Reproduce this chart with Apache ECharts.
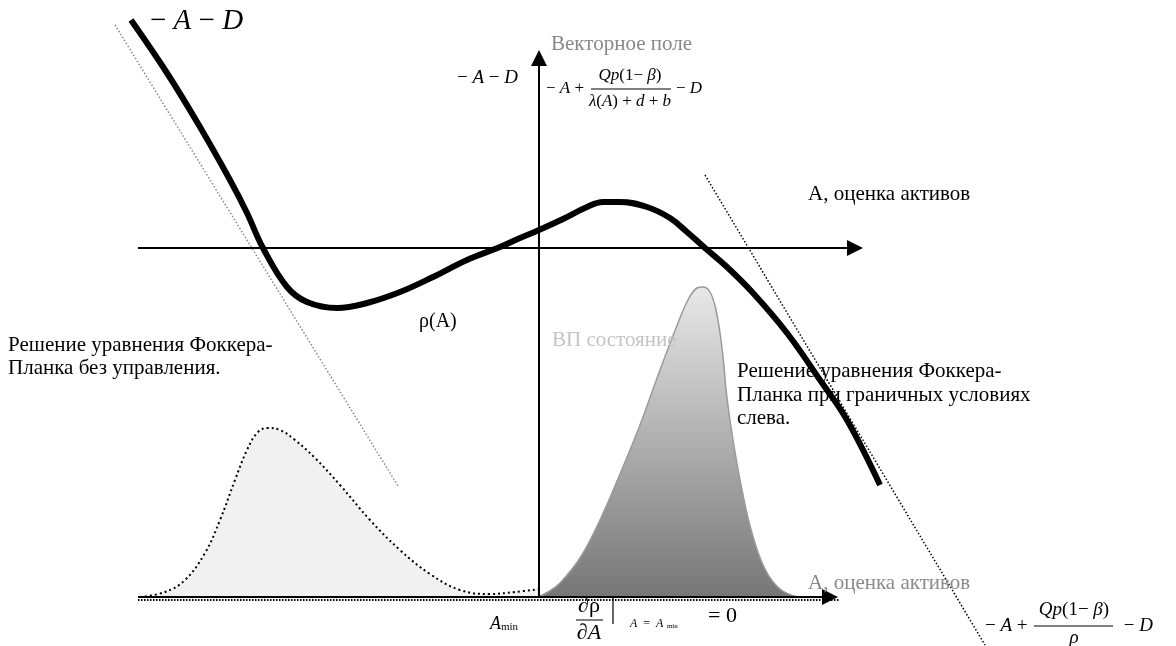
<!DOCTYPE html>
<html><head><meta charset="utf-8">
<script src="https://cdn.jsdelivr.net/npm/echarts@6/dist/echarts.min.js"></script>
<style>html,body{margin:0;padding:0;background:#fff}#c{width:1176px;height:646px}</style>
</head><body><div id="c"></div>
<script>
// ---- data (diagram units) ----
const baseLevel = 597;
const vectorFieldCurve = [[131,20],[167,73],[200,127],[230,180],[247,213],[263,248],[287,287],[307,302],[337,308],[367,303],[400,292],[433,277],[467,260],[500,247],[520,238],[539,230],[563,219],[587,207],[603,202],[620,202],[647,207],[670,218],[687,232],[705,248],[727,267],[753,293],[787,333],[820,380],[847,420],[880,485]];
const asymptoteLeft = [[115,25],[398,486]];
const asymptoteRight = [[705,175],[985,645]];
const freeSolution = [[140,597],[165,592],[185,580],[205,553],[220,520],[235,480],[247,450],[258,432],[268,428],[280,430],[295,440],[315,458],[340,485],[370,520],[400,550],[430,574],[460,590],[490,594],[515,592],[540,589]];
const boundarySolution = [[538,597],[548,592],[560,583],[580,558],[600,520],[620,474],[640,425],[660,370],[678,323],[688,300],[697,288],[703,287],[710,292],[716,310],[722,348],[727,398],[733,440],[742,490],[752,533],[765,569],[780,589],[798,597]];
const baseDotted = [[138,600],[840,600]];
const axisArrows = [[[138,248],[855,248]],[[539,597],[539,58]],[[138,597],[830,597]]];

const chart = echarts.init(document.getElementById('c'), null, {renderer:'canvas'});
const serif = '"Liberation Serif","Times New Roman",serif';
function T(x,y,text,size,fill,align){
  const f = fill||'#000';
  return {type:'text',x:x,y:y,z:100,zlevel:1,style:{text:text,fontFamily:serif,fontSize:size,fill:f,
    verticalAlign:'middle',textVerticalAlign:'middle',align:align||'left',textAlign:align||'left',lineHeight:Math.round(size*1.1),
    rich:{i:{fontStyle:'italic',fontFamily:serif,fontSize:size,fill:f},
          n:{fontFamily:serif,fontSize:size,fill:f},
          s:{fontFamily:serif,fontSize:Math.round(size*0.6),fill:f,padding:[Math.round(size*0.35),0,0,0]}}}};
}
function L(x1,y1,x2,y2,w){return {type:'line',z:100,zlevel:1,shape:{x1:x1,y1:y1,x2:x2,y2:y2},style:{stroke:'#000',lineWidth:w||1}};}

chart.setOption({
  animation:false,
  grid:{left:0,right:0,top:0,bottom:0},
  xAxis:{type:'value',min:0,max:1176,show:false},
  yAxis:{type:'value',min:0,max:646,inverse:true,show:false},
  series:[
    {type:'line',data:freeSolution,smooth:0.4,symbol:'none',z:2,
      lineStyle:{color:'#000',width:2,type:[2,3]},areaStyle:{color:'#ebebeb',origin:baseLevel}},
    {type:'line',data:boundarySolution,smooth:0.4,symbol:'none',z:3,
      lineStyle:{color:'#9a9a9a',width:1.5},
      areaStyle:{origin:baseLevel,opacity:1,color:new echarts.graphic.LinearGradient(0,0,0,1,[{offset:0,color:'#e8e8e8'},{offset:1,color:'#767676'}])}},
    {type:'line',data:asymptoteLeft,symbol:'none',z:4,lineStyle:{color:'#8a8a8a',width:1.5,type:[1.5,2]}},
    {type:'line',data:asymptoteRight,symbol:'none',z:4,lineStyle:{color:'#000',width:1.5,type:[1.5,2]}},
    {type:'line',data:baseDotted,symbol:'none',z:4,lineStyle:{color:'#000',width:2,type:[1.5,1.5]}},
    {type:'lines',coordinateSystem:'cartesian2d',z:5,symbol:['none','triangle'],symbolSize:[14,16],
      lineStyle:{color:'#000',width:2,opacity:1},itemStyle:{color:'#000'},
      data:axisArrows.map(c=>({coords:c}))},
    {type:'line',data:vectorFieldCurve,smooth:0.4,symbol:'none',z:6,lineStyle:{color:'#000',width:6,cap:'butt'}}
  ],
  graphic:[
    T(150,21,'{n|− }{i|A}{n| − }{i|D}',29),
    T(551,44,'Векторное поле',21,'#888'),
    T(457,78,'{n|− }{i|A}{n| − }{i|D}',19),
    T(546,89,'{n|− }{i|A}{n| +}',17),
    T(630,76,'{i|Qp}{n|(1− }{i|β}{n|)}',17,null,'center'),
    L(591,89,671,89,1),
    T(630,102,'{i|λ}{n|(}{i|A}{n|) + }{i|d}{n| + }{i|b}',17,null,'center'),
    T(676,89,'{n|− }{i|D}',17),
    T(808,194,'A, оценка активов',21),
    T(419,322,'ρ(A)',20),
    T(552,340,'ВП состояние',21,'#c4c4c4'),
    T(8,345,'Решение уравнения Фоккера-',21),
    T(8,368,'Планка без управления.',21),
    T(737,371,'Решение уравнения Фоккера-',21),
    T(737,395,'Планка при граничных условиях',21),
    T(737,418,'слева.',21),
    T(808,583,'A, оценка активов',21,'#8a8a8a'),
    T(985,626,'{n|− }{i|A}{n| + }',19),
    T(1074,610,'{i|Qp}{n|(1− }{i|β}{n|)}',19,null,'center'),
    L(1034,626,1113,626,1),
    T(1074,638,'{i|ρ}',19,null,'center'),
    T(1119,626,'{n| − }{i|D}',19),
    T(490,624,'{i|A}{s|min}',18),
    T(589,606,'∂ρ',22,null,'center'),
    L(576,620,603,620,1),
    T(589,633,'{i|∂A}',22,null,'center'),
    L(613,598,613,624,1.2),
    T(630,624,'{i|A}{n|  =  }{i|A}{s|  min}',12),
    T(708,616,'= 0',22)
  ]
});
</script></body></html>
